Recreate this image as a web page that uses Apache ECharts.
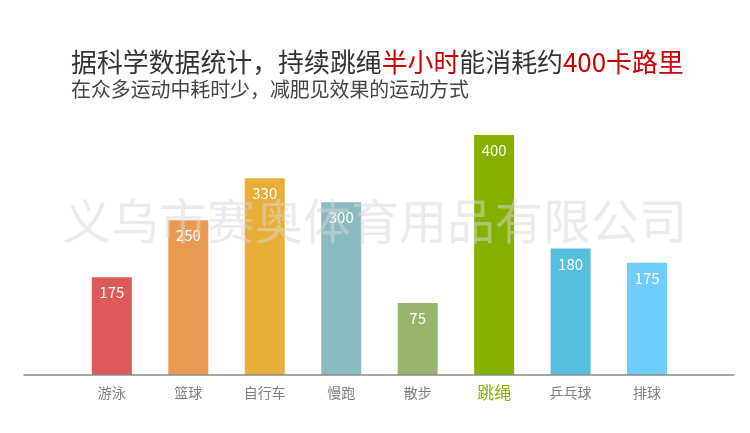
<!DOCTYPE html>
<html>
<head>
<meta charset="utf-8">
<script src="https://cdn.jsdelivr.net/npm/echarts@6/dist/echarts.min.js"></script>
<style>
html,body{margin:0;padding:0;background:#fff;}
#c{width:750px;height:433px;}
</style>
</head>
<body>
<div id="c"></div>
<script>
// Categories (x axis)
var categories = ['游泳', '篮球', '自行车', '慢跑', '散步', '跳绳', '乒乓球', '排球'];
// Bar heights as drawn in the picture (scale: top bar = 400)
var barHeights = [163, 258, 328, 288, 120, 400, 211, 187];
// Value labels printed on the bars
var labelValues = [175, 250, 330, 300, 75, 400, 180, 175];
// Bar colours
var barColors = ['#dc5a5a', '#e89a52', '#e9ae37', '#8abcbf', '#97b56e', '#86b000', '#56bedf', '#6ecdfc'];
var highlightCategory = '跳绳';

var titleMain = [
  {t: '据科学数据统计，持续跳绳', red: false},
  {t: '半小时', red: true},
  {t: '能消耗约', red: false},
  {t: '400卡路里', red: true}
];
var subTitle = '在众多运动中耗时少，减肥见效果的运动方式';
var watermark = '义乌市赛奥体育用品有限公司';

var FONT = '"Noto Sans CJK SC", "Noto Sans", sans-serif';

var chart = echarts.init(document.getElementById('c'), null, {renderer: 'canvas'});

var titleStr = titleMain.map(function (p) {
  return '{' + (p.red ? 'r' : 'b') + '|' + p.t + '}';
}).join('');

var option = {
  backgroundColor: '#ffffff',
  animation: false,
  title: [
    {
      text: titleStr,
      left: 71,
      top: 47,
      padding: 0,
      textStyle: {
        fontWeight: 'normal',
        rich: {
          b: {fontSize: 25.9, color: '#333333', fontFamily: FONT, fontWeight: 'normal', lineHeight: 30},
          r: {fontSize: 25.9, color: '#cc0000', fontFamily: FONT, fontWeight: 'normal', lineHeight: 30}
        }
      }
    },
    {
      text: subTitle,
      left: 71,
      top: 78,
      padding: 0,
      textStyle: {fontSize: 19.9, color: '#444444', fontFamily: FONT, fontWeight: 'normal', lineHeight: 22}
    }
  ],
  grid: [
    {left: 73.6, right: 64.7, top: 135, bottom: 58, containLabel: false},
    {left: 24, right: 16, top: 135, bottom: 58, containLabel: false}
  ],
  xAxis: [
    {
      type: 'category',
      gridIndex: 0,
      data: categories,
      axisLine: {show: false},
      axisTick: {show: false},
      axisLabel: {
        margin: 10,
        formatter: function (v) {
          return v === highlightCategory ? '{h|' + v + '}' : '{n|' + v + '}';
        },
        rich: {
          n: {fontSize: 14, color: '#7f7f7f', fontFamily: FONT, lineHeight: 16},
          h: {fontSize: 17, color: '#86b000', fontFamily: FONT, lineHeight: 16}
        }
      }
    },
    {
      type: 'value',
      gridIndex: 1,
      min: 0,
      max: 1,
      axisLine: {show: true, lineStyle: {color: '#8a8a8a', width: 1.5}},
      axisTick: {show: false},
      axisLabel: {show: false},
      splitLine: {show: false},
      z: 10
    }
  ],
  yAxis: [
    {type: 'value', gridIndex: 0, min: 0, max: 400, show: false},
    {type: 'value', gridIndex: 1, min: 0, max: 1, show: false}
  ],
  series: [
    {
      type: 'bar',
      xAxisIndex: 0,
      yAxisIndex: 0,
      barWidth: 40,
      data: barHeights.map(function (v, i) {
        return {value: v, itemStyle: {color: barColors[i]}};
      }),
      label: {
        show: true,
        position: 'insideTop',
        distance: 8,
        color: '#ffffff',
        fontSize: 15,
        fontFamily: FONT,
        formatter: function (p) { return String(labelValues[p.dataIndex]); }
      }
    }
  ],
  graphic: [
    {
      type: 'text',
      left: 63,
      top: 197,
      z: 100,
      silent: true,
      style: {
        text: watermark,
        fontSize: 48,
        fontFamily: FONT,
        fill: 'rgba(215,215,215,0.5)'
      }
    }
  ]
};

chart.setOption(option);
</script>
</body>
</html>
